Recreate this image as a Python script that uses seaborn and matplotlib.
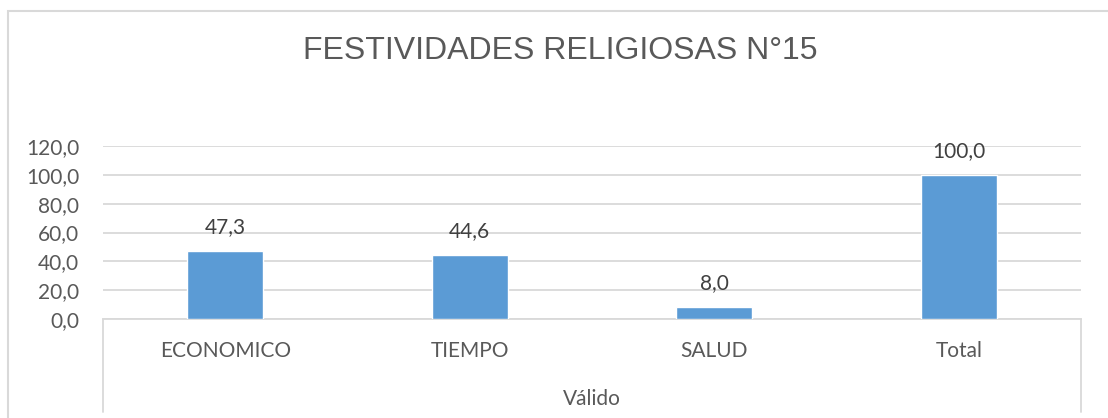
import pandas as pd
import matplotlib.pyplot as plt
import seaborn as sns
from matplotlib.ticker import FuncFormatter, MultipleLocator
from matplotlib.patches import Rectangle
from matplotlib.lines import Line2D

# Chart data
categories = ["ECONOMICO", "TIEMPO", "SALUD", "Total"]
percentages = [47.3, 44.6, 8.0, 100.0]
group_label = "Válido"
title = "FESTIVIDADES RELIGIOSAS N°15"

df = pd.DataFrame({"Categoria": categories, "Porcentaje": percentages})

sns.set_style("white")
plt.rcParams['font.family'] = ['Lato', 'DejaVu Sans']

text_gray = "#595959"
grid_gray = "#D9D9D9"
bar_blue = "#5B9BD5"

fig = plt.figure(figsize=(11.08, 4.18), dpi=100)
ax = fig.add_axes([103 / 1108, 1 - 319 / 418, (1081 - 103) / 1108, (319 - 146) / 418])

sns.barplot(data=df, x="Categoria", y="Porcentaje", color=bar_blue, width=0.31,
            saturation=1, ax=ax, zorder=3)

ax.set_ylim(0, 120)
ax.set_xlim(-0.5, len(categories) - 0.5)
ax.yaxis.set_major_locator(MultipleLocator(20))
ax.yaxis.set_major_formatter(FuncFormatter(lambda v, p: f"{v:.1f}".replace(".", ",")))
ax.grid(axis="y", color=grid_gray, linewidth=1.3, zorder=0)
ax.set_axisbelow(True)
for side in ["top", "right", "left"]:
    ax.spines[side].set_visible(False)
ax.spines["bottom"].set_color(grid_gray)
ax.spines["bottom"].set_linewidth(1.3)
ax.tick_params(axis="y", length=0, labelsize=15, labelcolor=text_gray, pad=17)
ax.tick_params(axis="x", length=0, labelsize=15, labelcolor=text_gray, pad=16)
ax.set_xlabel("")
ax.set_ylabel("")

# Data labels
for i, v in enumerate(percentages):
    ax.annotate(f"{v:.1f}".replace(".", ","), (i, v), xytext=(0, 10),
                textcoords="offset points", ha="center", va="bottom",
                fontsize=15, color="#404040")

# Group label and category separators
ax.text(0.5, -0.46, group_label, transform=ax.transAxes, ha="center", va="center",
        fontsize=15, color=text_gray)
for xa in [0, 1]:
    ax.add_line(Line2D([xa, xa], [0, -0.54], transform=ax.transAxes, color=grid_gray,
                       linewidth=1.3, clip_on=False))

fig.suptitle(title, x=0.506, y=1 - 51 / 418, va="center", fontsize=23,
             color=text_gray, family="Liberation Sans")

# Chart frame
fig.patches.append(Rectangle((8 / 1108, -0.1), 1.0, 1 - 11 / 418 + 0.1,
                             transform=fig.transFigure, fill=False,
                             edgecolor=grid_gray, linewidth=1.5))

fig.savefig("out.png", dpi=100)
